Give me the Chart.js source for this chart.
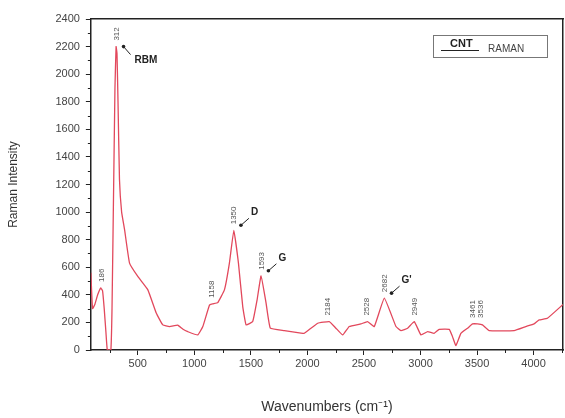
<!DOCTYPE html>
<html>
<head>
<meta charset="utf-8">
<script src="https://cdn.jsdelivr.net/npm/chart.js@4.4.1/dist/chart.umd.min.js"></script>
<style>
  body { margin: 0; background: #fff; }
  #wrap { width: 565px; height: 418px; position: relative; }
</style>
</head>
<body>
<div id="wrap"><canvas id="ramanChart"></canvas></div>
<script>
// spectrum
const wavenumbers = [85, 92, 100, 120, 145, 172, 188, 203, 218, 230, 248, 262, 272, 285, 298, 308, 316, 325, 338, 357, 383, 427, 500, 589, 663, 721, 780, 824, 853, 900, 942, 1030, 1075, 1134, 1162, 1207, 1266, 1310, 1349, 1390, 1428, 1458, 1516, 1555, 1590, 1634, 1672, 1796, 1943, 1973, 2091, 2193, 2250, 2312, 2370, 2473, 2532, 2591, 2680, 2783, 2827, 2886, 2945, 3004, 3063, 3120, 3165, 3254, 3283, 3313, 3357, 3416, 3460, 3504, 3548, 3607, 3828, 3931, 4004, 4049, 4122, 4260];
const intensity   = [560, 420, 300, 330, 400, 450, 430, 300, 130, 0, 0, 0, 300, 1100, 1900, 2200, 2150, 1800, 1236, 1000, 873, 630, 533, 436, 268, 182, 170, 177, 180, 150, 133, 109, 170, 327, 335, 344, 436, 630, 868, 630, 315, 182, 206, 364, 538, 342, 158, 141, 123, 121, 194, 206, 160, 109, 170, 189, 206, 170, 376, 170, 141, 158, 206, 109, 133, 121, 150, 150, 97, 32, 121, 158, 189, 189, 182, 141, 141, 170, 189, 218, 230, 330];

// peak labels
const peakPos    = [186, 312, 1158, 1350, 1593, 2184, 2528, 2682, 2949, 3461, 3536];
const peakHeight = [450, 2200, 335, 868, 538, 206, 206, 376, 206, 189, 189];
const peakNames  = ['186', '312', '1158', '1350', '1593', '2184', '2528', '2682', '2949', '3461', '3536'];

// band names with arrows
const bandNames = ['RBM', 'D', 'G', "G'"];
const bandPos   = [312, 1350, 1593, 2682];
const bandLevel = [2200, 868, 538, 376];

const xTicks = [500, 1000, 1500, 2000, 2500, 3000, 3500, 4000];
const yTicks = [0, 200, 400, 600, 800, 1000, 1200, 1400, 1600, 1800, 2000, 2200, 2400];

const points = wavenumbers.map((w, i) => ({ x: w, y: intensity[i] }));
const FONT = '"Liberation Sans", Arial, sans-serif';

const annotate = {
    id: 'annotate',
    afterDatasetsDraw(chart) {
        const ctx = chart.ctx;
        const xs = chart.scales.x, ys = chart.scales.y;
        const area = chart.chartArea;
        ctx.save();

        // minor ticks
        ctx.strokeStyle = '#222';
        ctx.lineWidth = 1;
        for (let i = 0; i < xTicks.length + 1; i++) {
            const v = (i === 0 ? 0 : xTicks[i - 1]) + 250;
            if (v > xs.max || v < xs.min) continue;
            const px = Math.round(xs.getPixelForValue(v)) + 0.5;
            ctx.beginPath(); ctx.moveTo(px, area.bottom); ctx.lineTo(px, area.bottom + 3); ctx.stroke();
        }
        for (let i = 0; i < yTicks.length - 1; i++) {
            const v = yTicks[i] + 100;
            const py = Math.round(ys.getPixelForValue(v)) + 0.5;
            ctx.beginPath(); ctx.moveTo(area.left, py); ctx.lineTo(area.left - 3, py); ctx.stroke();
        }

        // rotated peak labels
        ctx.fillStyle = '#555';
        ctx.font = '8px ' + FONT;
        ctx.textAlign = 'left';
        ctx.textBaseline = 'middle';
        peakPos.forEach((p, i) => {
            const px = xs.getPixelForValue(p);
            const py = ys.getPixelForValue(peakHeight[i]) - 6;
            ctx.save();
            ctx.translate(px, py);
            ctx.rotate(-Math.PI / 2);
            ctx.fillText(peakNames[i], 0, 0);
            ctx.restore();
        });

        // band names with arrows
        ctx.fillStyle = '#222';
        ctx.strokeStyle = '#222';
        ctx.font = 'bold 10px ' + FONT;
        ctx.textBaseline = 'middle';
        bandNames.forEach((name, i) => {
            const px = xs.getPixelForValue(bandPos[i]);
            const py = ys.getPixelForValue(bandLevel[i]);
            let tip, end, txt;
            if (i === 0) {
                tip = [px + 7, py]; end = [px + 14, py + 8]; txt = [px + 18, py + 14];
            } else {
                tip = [px + 7, py - 5]; end = [px + 15, py - 12]; txt = [px + 17, py - 18];
            }
            ctx.beginPath(); ctx.moveTo(end[0], end[1]); ctx.lineTo(tip[0], tip[1]); ctx.stroke();
            ctx.beginPath(); ctx.arc(tip[0], tip[1], 1.8, 0, Math.PI * 2); ctx.fill();
            ctx.fillText(name, txt[0], txt[1]);
        });

        // legend box
        const bx = area.right - 130, by = area.top + 16;
        ctx.strokeStyle = '#777';
        ctx.strokeRect(bx + 0.5, by + 0.5, 114, 22);
        ctx.fillStyle = '#222';
        ctx.font = 'bold 11px ' + FONT;
        ctx.textAlign = 'left';
        ctx.fillText('CNT', bx + 17, by + 9);
        ctx.fillRect(bx + 8, by + 15, 38, 1);
        ctx.fillStyle = '#444';
        ctx.font = '10px ' + FONT;
        ctx.fillText('RAMAN', bx + 55, by + 14);

        ctx.restore();
    }
};

const ctx = document.getElementById('ramanChart').getContext('2d');
new Chart(ctx, {
    type: 'line',
    data: {
        datasets: [{
            label: 'CNT RAMAN',
            data: points,
            borderColor: 'rgb(226, 72, 92)',
            borderWidth: 1.3,
            pointRadius: 0,
            fill: false,
            tension: 0.1
        }]
    },
    options: {
        responsive: true,
        maintainAspectRatio: false,
        animation: false,
        layout: { padding: { top: 19, right: 2, left: 6, bottom: 2 } },
        plugins: {
            legend: { display: false },
            tooltip: { enabled: false }
        },
        scales: {
            x: {
                type: 'linear',
                min: 85,
                max: 4260,
                afterBuildTicks: scale => { scale.ticks = xTicks.map(v => ({ value: v })); },
                ticks: {
                    color: '#444',
                    font: { family: FONT, size: 11 },
                    maxRotation: 0,
                    padding: 2,
                    callback: v => String(v)
                },
                grid: { drawOnChartArea: false, tickLength: 5, color: '#222' },
                border: { color: '#222', width: 1.5 },
                title: {
                    display: true,
                    text: 'Wavenumbers (cm\u207B\u00B9)',
                    color: '#333',
                    font: { family: FONT, size: 14 },
                    padding: { top: 27, bottom: 0 }
                }
            },
            y: {
                min: 0,
                max: 2400,
                afterBuildTicks: scale => { scale.ticks = yTicks.map(v => ({ value: v })); },
                ticks: {
                    color: '#444',
                    font: { family: FONT, size: 11 },
                    padding: 6,
                    callback: v => String(v)
                },
                grid: { drawOnChartArea: false, tickLength: 5, color: '#222' },
                border: { color: '#222', width: 1.5 },
                title: {
                    display: true,
                    text: 'Raman Intensity',
                    color: '#333',
                    font: { family: FONT, size: 12 },
                    padding: { top: 0, bottom: 29 }
                }
            },
            x2: {
                type: 'linear', position: 'top', display: true,
                min: 85, max: 4260,
                ticks: { display: false },
                grid: { display: false, drawTicks: false },
                border: { color: '#222', width: 1.5 }
            },
            y2: {
                position: 'right', display: true,
                min: 0, max: 2400,
                ticks: { display: false },
                grid: { display: false, drawTicks: false },
                border: { color: '#222', width: 1.5 }
            }
        }
    },
    plugins: [annotate]
});
</script>
</body>
</html>
